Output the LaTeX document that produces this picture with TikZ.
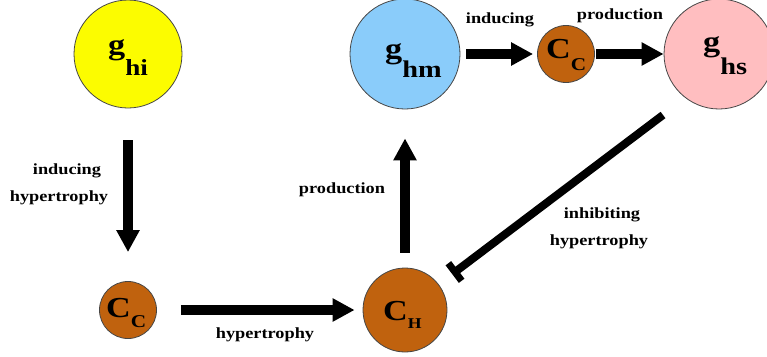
\documentclass[tikz,border=0pt]{standalone}
\usepackage{fontspec}
\setmainfont{Liberation Serif}[FakeStretch=1.18]
\usetikzlibrary{arrows.meta,calc}
\definecolor{cyel}{RGB}{252,252,0}
\definecolor{cblue}{RGB}{138,204,250}
\definecolor{cpink}{RGB}{255,190,192}
\definecolor{cbrown}{RGB}{192,98,14}
\definecolor{cedge}{RGB}{70,70,70}
\begin{document}
\begin{tikzpicture}[x=1pt,y=-1pt,
  ball/.style={circle,draw=cedge,line width=0.8pt,inner sep=0pt,minimum size=#1},
  sym/.style={anchor=base west,inner sep=0pt,font=\fontsize{29}{30}\selectfont\bfseries},
  lbl/.style={anchor=base,inner sep=0pt,font=\fontsize{15.5}{17}\selectfont\bfseries},
  fat/.style={line width=10pt,-{Triangle[width=22pt,length=22pt]}}
]
\useasboundingbox (0,0) rectangle (767,356);
% circles
\node[ball=108pt,fill=cyel] (ghi) at (128,54) {};
\node[ball=110pt,fill=cblue] (ghm) at (405,54) {};
\node[ball=57pt,fill=cbrown] (cc1) at (566,54) {};
\node[ball=110pt,fill=cpink] (ghs) at (719,54) {};
\node[ball=57pt,fill=cbrown] (cc2) at (128,310) {};
\node[ball=84pt,fill=cbrown] (ch) at (405,310) {};
% symbols
\node[sym] (tghi) at (108,54) {g\raisebox{-21pt}{\fontsize{23}{23}\selectfont hi}};
\node[sym] (tghm) at (385,58) {g\raisebox{-19pt}{\fontsize{24}{24}\selectfont hm}};
\node[sym] (tghs) at (703,51) {g\raisebox{-23pt}{\fontsize{24}{24}\selectfont hs}};
\node[sym] (tcc1) at (546,58) {C\raisebox{-12pt}{\fontsize{18}{18}\selectfont C}};
\node[sym] (tcc2) at (106,317) {C\raisebox{-10pt}{\fontsize{18}{18}\selectfont C}};
\node[sym] (tch) at (383,320) {C\raisebox{-8pt}{\fontsize{15}{15}\selectfont H}};
% arrows
\draw[fat,shorten <=32pt,shorten >=29pt] (ghi) -- (cc2);
\draw[fat,shorten <=24pt,shorten >=8pt] (cc2) -- (ch);
\draw[fat,shorten <=15pt,shorten >=29pt] (ch) -- (ghm);
\draw[fat,shorten <=6pt,shorten >=4pt] (ghm) -- (cc1);
\draw[fat,shorten <=1.5pt,shorten >=0pt] (cc1) -- (ghs);
% inhibition
\coordinate (inhA) at (663,115);
\coordinate (inhB) at (455,272);
\draw[line width=8pt] (inhA) -- (inhB);
\draw[line width=7pt] ($(inhB)!11pt!90:(inhA)$) -- ($(inhB)!11pt!-90:(inhA)$);
% labels
\node[lbl] (l1) at (67,174) {inducing};
\node[lbl] (l2) at (59,201) {hypertrophy};
\node[lbl] (l3) at (265,338) {hypertrophy};
\node[lbl] (l4) at (342,193) {production};
\node[lbl] (l5) at (500,23) {inducing};
\node[lbl] (l6) at (620,19) {production};
\node[lbl] (l7) at (602,218) {inhibiting};
\node[lbl] (l8) at (599,245) {hypertrophy};
\end{tikzpicture}
\end{document}
